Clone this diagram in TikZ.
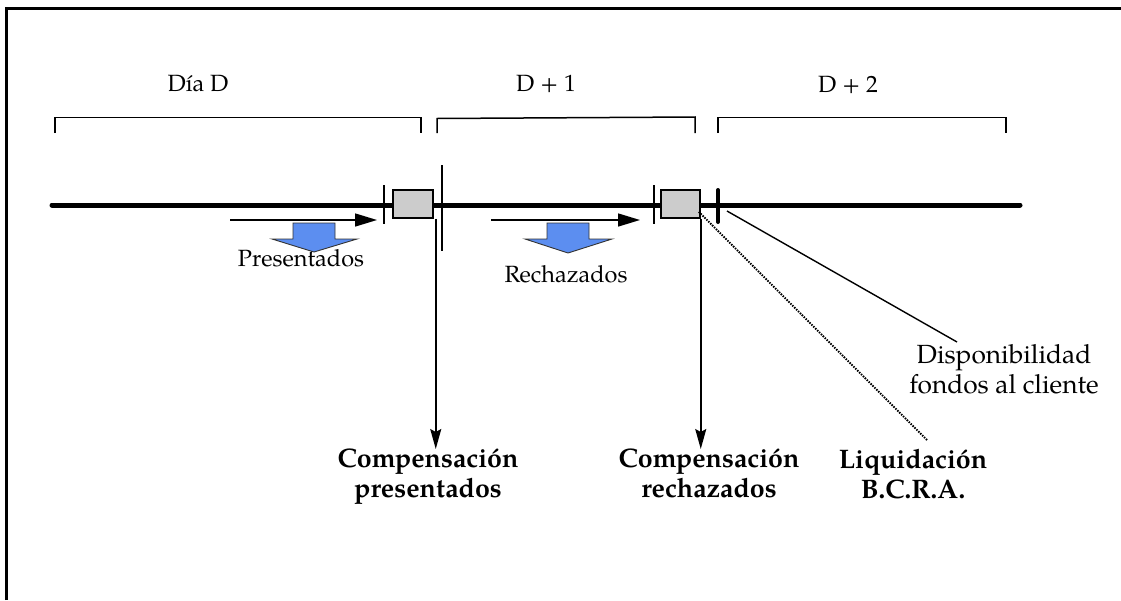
\documentclass[tikz,border=0pt]{standalone}
\usepackage{fontspec}
\setmainfont{TeX Gyre Pagella}
\usetikzlibrary{arrows.meta}
\definecolor{boxgray}{RGB}{204,204,204}
\definecolor{blockblue}{RGB}{92,142,240}
\begin{document}
\begin{tikzpicture}[x=1pt,y=-1pt,
  lab/.style={font=\fontsize{23.5}{28}\selectfont, inner sep=0, anchor=base},
  big/.style={font=\fontsize{26.8}{30}\selectfont\bfseries, inner sep=0, align=center, anchor=north},
  note/.style={font=\fontsize{26.3}{30}\selectfont, inner sep=0, align=center, anchor=north},
  box/.style={draw, line width=1.5, fill=boxgray, minimum width=40, minimum height=28, inner sep=0},
  brk/.style={line width=1.5},
  harr/.style={line width=1.5, -{Triangle[length=22,width=13]}},
  varr/.style={line width=1.5, -{Stealth[length=20,width=11,inset=3]}},
  tick/.style={line width=1.3},
  blk/.style={fill=blockblue, draw=black!80, line width=0.9, line join=miter}]
\useasboundingbox (0,0) rectangle (1121,600);
% frame
\draw[line width=2.5] (6.5,600) -- (6.5,8.5) -- (1121,8.5);
% day labels
\node[lab] (dd) at (198,91) {Día D};
\node[lab] (d1) at (546,91) {D + 1};
\node[lab] (d2) at (848,92) {D + 2};
% brackets
\draw[brk] (55,133) -- (55,117.5) -- (421,117.5) -- (421,133);
\draw[brk] (437,133) -- (437,118.5) -- (695,117) -- (695,133);
\draw[brk] (718,133) -- (718,117.5) -- (1006,117.5) -- (1006,133);
% timeline
\draw[line width=5, line cap=round] (52,205) -- (1020,205);
% ticks
\draw[tick] (384,185) -- (384,224);
\draw[tick] (442,165) -- (442,251);
\draw[tick] (654,185) -- (654,224);
\draw[line width=4, line cap=round] (718,190) -- (718,222);
% boxes
\node[box] (b1) at (413,204) {};
\node[box, minimum width=39] (b2) at (680.5,204) {};
% horizontal arrows
\coordinate (ha1s) at (230,220);
\coordinate (ha1e) at (377,220);
\coordinate (ha2s) at (491,220);
\coordinate (ha2e) at (640,220);
\draw[harr] (ha1s) -- (ha1e);
\draw[harr] (ha2s) -- (ha2e);
% block arrows
\draw[blk] (293,223) -- (335,223) -- (335,239) -- (357,239) -- (314,252) -- (272,239) -- (293,239) -- cycle;
\draw[blk] (547,223) -- (589,223) -- (589,239) -- (612,239) -- (568,253) -- (525,239) -- (547,239) -- cycle;
% labels
\node[lab] (pres) at (301,266) {Presentados};
\node[lab] (rech) at (566,282) {Rechazados};
\node[big] (c1) at (428,449) {Compensación\\presentados};
\node[big] (c2) at (709,449) {Compensación\\rechazados};
\node[big] (liq) at (913,449) {Liquidación\\B.C.R.A.};
\node[note] (disp) at (1004,344) {Disponibilidad\\fondos al cliente};
% vertical arrows
\draw[varr] ([xshift=2]b1.south east) -- ([xshift=2]b1.south east |- c1.north);
\draw[varr] (b2.south east) -- (b2.south east |- c2.north);
% slanted lines
\coordinate (dotend) at (927,440);
\coordinate (dispend) at (957,342);
\draw[line width=1.8, dash pattern=on 1.5pt off 1.2pt] ([shift={(-2,-7)}]b2.south east) -- (dotend);
\draw[line width=1.4] (727,211) -- (dispend);
\end{tikzpicture}
\end{document}
